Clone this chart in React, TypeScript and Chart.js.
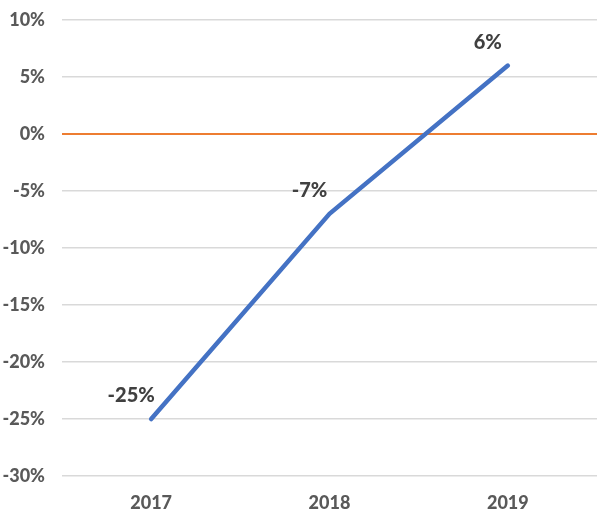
import React, { useEffect, useRef } from "react";
import { Chart, registerables } from "chart.js";

Chart.register(...registerables);

const categories = ["2017", "2018", "2019"];
const values = [-25, -7, 6];
const yTicks = [10, 5, 0, -5, -10, -15, -20, -25, -30];

const labelPlugin = {
  id: "pointLabels",
  afterDatasetsDraw(chart: any) {
    const ctx = chart.ctx;
    const meta = chart.getDatasetMeta(0);
    ctx.save();
    ctx.font = "900 20px Lato";
    ctx.fillStyle = "#404040";
    ctx.textAlign = "center";
    ctx.textBaseline = "middle";
    meta.data.forEach((pt: any, i: number) => {
      ctx.fillText(values[i] + "%", pt.x - 20, pt.y - 23);
    });
    ctx.restore();
  },
};

export default function App() {
  const ref = useRef<HTMLCanvasElement>(null);
  useEffect(() => {
    document.body.style.margin = "0";
    const chart = new Chart(ref.current!, {
      type: "line",
      data: {
        labels: categories,
        datasets: [
          {
            data: values,
            borderColor: "#4472c4",
            borderWidth: 4.5,
            pointRadius: 0,
            tension: 0,
            borderCapStyle: "round",
          },
        ],
      },
      options: {
        responsive: false,
        animation: false,
        layout: { padding: { top: 20, right: 14, left: 0, bottom: 0 } },
        plugins: { legend: { display: false }, tooltip: { enabled: false } },
        scales: {
          x: {
            offset: true,
            grid: { display: false, drawTicks: false },
            border: { display: false },
            ticks: { color: "#595959", font: { family: "Lato", size: 18, weight: "900" }, padding: 16 },
            afterFit: (s: any) => { s.height = 51; },
          },
          y: {
            min: -30,
            max: 10,
            afterBuildTicks: (s: any) => { s.ticks = yTicks.map((v) => ({ value: v })); },
            grid: {
              drawTicks: false,
              color: (c: any) => (c.tick && c.tick.value === 0 ? "#ed7d31" : "#d9d9d9"),
              lineWidth: (c: any) => (c.tick && c.tick.value === 0 ? 2 : 1.5),
            },
            border: { display: false },
            ticks: {
              color: "#595959",
              font: { family: "Lato", size: 18, weight: "900" },
              padding: 17,
              callback: (v: any) => v + "%",
            },
            afterFit: (s: any) => { s.width = 62; s.paddingTop = 0; s.paddingBottom = 0; },
          },
        },
      },
      plugins: [labelPlugin],
    } as any);
    return () => chart.destroy();
  }, []);
  return <canvas ref={ref} width={611} height={527} style={{ display: "block" }} />;
}
